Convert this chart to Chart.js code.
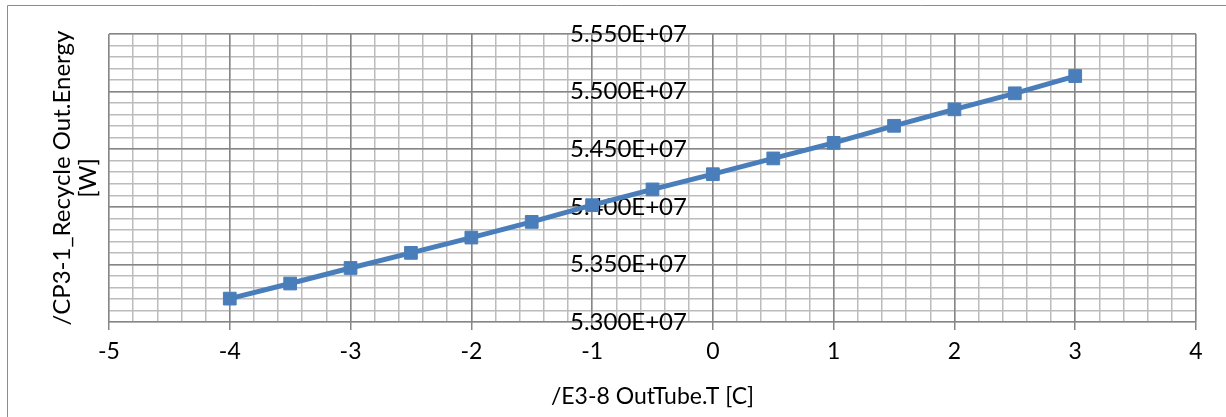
<!DOCTYPE html>
<html>
<head>
<meta charset="utf-8">
<script src="https://cdn.jsdelivr.net/npm/chart.js@4.4.1/dist/chart.umd.min.js"></script>
<style>
  html, body { margin: 0; padding: 0; background: #fff; }
  #wrap { position: relative; width: 1226px; height: 417px; }
</style>
</head>
<body>
<div id="wrap"><canvas id="chart"></canvas></div>
<script>
// Values
const temps = [-4, -3.5, -3, -2.5, -2, -1.5, -1, -0.5, 0, 0.5, 1, 1.5, 2, 2.5, 3];
const energy = [
  5.3203e7, 5.3334e7, 5.3469e7, 5.3600e7, 5.3733e7,
  5.3869e7, 5.4014e7, 5.4151e7, 5.4283e7, 5.4420e7,
  5.4555e7, 5.4703e7, 5.4846e7, 5.4985e7, 5.5135e7
];
const xRange = [-5, 4];
const yRange = [5.30e7, 5.55e7];
const xTitle = '/E3-8 OutTube.T [C]';
const yTitle = ['/CP3-1_Recycle Out.Energy', '[W]'];

const FONT = 'Lato, "DejaVu Sans", sans-serif';
const BLUE = '#4a7ebb';
const MAJOR = '#868686';
const MINOR = '#bcbcbc';

// thin frame on the left and top edge like the cropped original
const framePlugin = {
  id: 'frame',
  beforeDraw(chart) {
    const ctx = chart.ctx;
    ctx.save();
    ctx.strokeStyle = '#8c8c8c';
    ctx.lineWidth = 1;
    ctx.beginPath();
    ctx.moveTo(7.5, 417);
    ctx.lineTo(7.5, 5.5);
    ctx.lineTo(1226, 5.5);
    ctx.stroke();
    ctx.restore();
  }
};

new Chart(document.getElementById('chart'), {
  type: 'line',
  data: {
    datasets: [{
      data: temps.map((t, i) => ({ x: t, y: energy[i] })),
      borderColor: BLUE,
      backgroundColor: BLUE,
      borderWidth: 5,
      pointStyle: 'rect',
      pointRadius: 9,
      pointBorderWidth: 1,
      pointBorderColor: BLUE,
      pointBackgroundColor: BLUE,
      tension: 0
    }]
  },
  options: {
    responsive: true,
    maintainAspectRatio: false,
    animation: false,
    layout: { padding: { top: 34, right: 30, bottom: 0, left: 0 } },
    plugins: {
      legend: { display: false },
      tooltip: { enabled: false }
    },
    scales: {
      xMinor: {
        type: 'linear', axis: 'x', position: 'bottom',
        min: xRange[0], max: xRange[1],
        ticks: { display: false, stepSize: 0.2 },
        grid: { color: MINOR, lineWidth: 1.5, drawTicks: false, z: -2 },
        border: { display: false },
        afterFit(s) { s.height = 0; }
      },
      yMinor: {
        type: 'linear', axis: 'y', position: 'left',
        min: yRange[0], max: yRange[1],
        ticks: { display: false, stepSize: 1e5 },
        grid: { color: MINOR, lineWidth: 1.5, drawTicks: false, z: -2 },
        border: { display: false },
        afterFit(s) { s.width = 0; }
      },
      x: {
        type: 'linear', position: 'bottom',
        min: xRange[0], max: xRange[1],
        ticks: { stepSize: 1, color: '#000', padding: 8, font: { family: FONT, size: 23 } },
        grid: { color: MAJOR, lineWidth: 1.5, tickLength: 8, z: -1 },
        border: { display: false },
        title: {
          display: true, text: xTitle, color: '#000',
          font: { family: FONT, size: 23, lineHeight: 1.15 },
          padding: { top: 0, bottom: 7 }
        },
        afterFit(s) { s.height = 95; }
      },
      y: {
        type: 'linear', position: 'left',
        min: yRange[0], max: yRange[1],
        ticks: { display: false, stepSize: 5e5 },
        grid: { color: MAJOR, lineWidth: 1.5, drawTicks: false, z: -1 },
        border: { display: false },
        title: {
          display: true, text: yTitle, color: '#000',
          font: { family: FONT, size: 24, lineHeight: 1.1 },
          padding: { top: 49, bottom: 0 }
        },
        afterFit(s) { s.width = 109; }
      },
      yLab: {
        type: 'linear', axis: 'y', position: { x: -0.215 },
        min: yRange[0], max: yRange[1],
        ticks: {
          stepSize: 5e5, color: '#000',
          font: { family: FONT, size: 24 },
          callback: v => (v / 1e7).toFixed(3) + 'E+07'
        },
        grid: { display: false, drawTicks: false },
        border: { display: false }
      }
    }
  },
  plugins: [framePlugin]
});
</script>
</body>
</html>
